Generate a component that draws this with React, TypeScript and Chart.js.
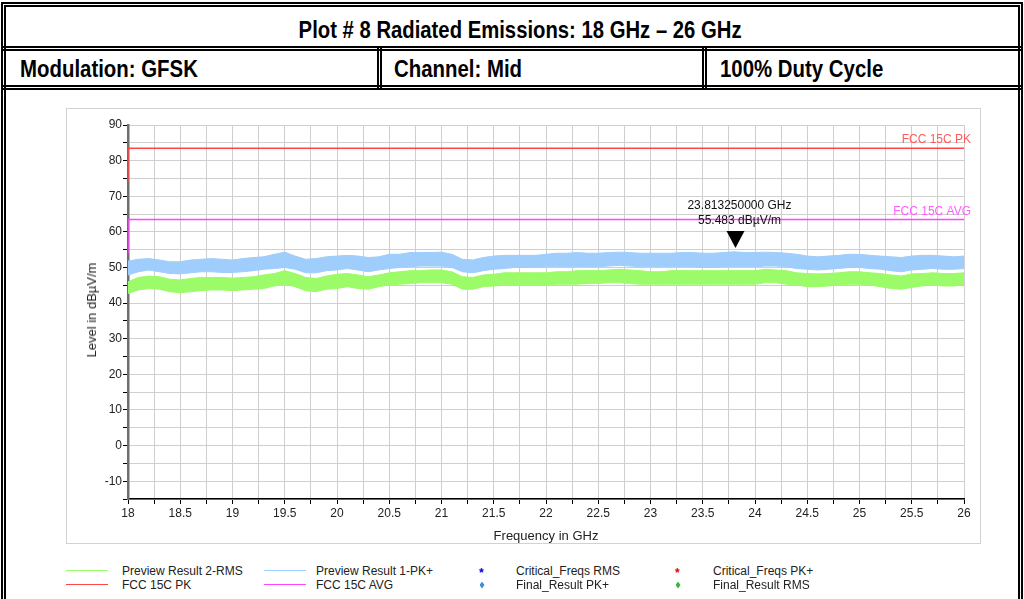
import React, { useEffect, useRef } from "react";
import { Chart, registerables } from "chart.js";

Chart.register(...registerables);

// ---- data ----
const freqs = [
  18.0, 18.1, 18.2, 18.3, 18.4, 18.5, 18.6, 18.7, 18.8, 18.9,
  19.0, 19.1, 19.2, 19.3, 19.4, 19.5, 19.6, 19.7, 19.8, 19.9,
  20.0, 20.1, 20.2, 20.3, 20.4, 20.5, 20.6, 20.7, 20.8, 20.9,
  21.0, 21.1, 21.2, 21.3, 21.4, 21.5, 21.6, 21.7, 21.8, 21.9,
  22.0, 22.1, 22.2, 22.3, 22.4, 22.5, 22.6, 22.7, 22.8, 22.9,
  23.0, 23.1, 23.2, 23.3, 23.4, 23.5, 23.6, 23.7, 23.8, 23.9,
  24.0, 24.1, 24.2, 24.3, 24.4, 24.5, 24.6, 24.7, 24.8, 24.9,
  25.0, 25.1, 25.2, 25.3, 25.4, 25.5, 25.6, 25.7, 25.8, 25.9,
  26.0,
];

// Preview Result 1-PK+ (upper / lower envelope of trace), dBµV/m
const pkUpper = [
  51.8, 52.3, 52.5, 52.1, 51.6, 51.6, 52.1, 52.3, 52.5, 52.3,
  52.1, 52.5, 52.8, 53.0, 53.7, 54.3, 53.2, 52.3, 52.5, 53.0,
  53.2, 53.4, 53.2, 52.8, 53.0, 53.7, 53.7, 54.2, 54.2, 54.2,
  54.3, 53.7, 52.3, 52.1, 52.8, 53.2, 53.4, 53.4, 53.4, 53.4,
  53.7, 54.0, 54.0, 54.2, 54.0, 54.0, 54.2, 54.3, 54.2, 54.0,
  54.0, 54.0, 54.0, 54.2, 54.2, 54.0, 54.0, 54.2, 54.4, 54.2,
  54.2, 54.3, 54.2, 54.0, 53.7, 53.2, 53.0, 53.2, 53.4, 53.7,
  53.7, 53.4, 53.2, 53.0, 52.8, 53.2, 53.4, 53.4, 53.2, 53.0,
  53.2,
];
const pkLower = [
  47.9, 48.8, 49.3, 48.8, 48.3, 48.2, 48.5, 48.8, 48.8, 48.6,
  48.6, 48.8, 49.1, 49.5, 49.7, 50.0, 49.5, 48.5, 48.5, 49.1,
  49.3, 49.7, 49.3, 48.8, 49.3, 49.7, 50.0, 50.2, 50.4, 50.4,
  50.4, 50.0, 48.8, 48.5, 49.1, 49.5, 49.7, 50.0, 50.0, 50.0,
  50.2, 50.2, 50.2, 50.2, 50.2, 50.2, 50.4, 50.6, 50.4, 50.2,
  50.2, 50.2, 50.2, 50.2, 50.2, 50.0, 50.0, 50.2, 50.2, 50.2,
  50.2, 50.4, 50.4, 50.2, 49.7, 49.5, 49.3, 49.5, 49.7, 50.0,
  50.0, 49.7, 49.5, 49.1, 48.8, 49.3, 49.5, 49.7, 49.5, 49.5,
  49.7,
];

// Preview Result 2-RMS (upper / lower envelope of trace), dBµV/m
const rmsUpper = [
  46.0, 47.2, 47.6, 47.4, 46.7, 46.5, 46.9, 47.2, 47.2, 47.2,
  47.0, 47.2, 47.4, 47.9, 48.3, 49.1, 48.3, 47.2, 46.9, 47.6,
  48.1, 48.3, 47.9, 47.4, 47.9, 48.5, 48.8, 49.1, 49.1, 49.3,
  49.3, 48.8, 47.4, 47.2, 47.9, 48.1, 48.5, 48.5, 48.5, 48.5,
  48.5, 48.8, 48.8, 49.1, 49.1, 49.1, 49.3, 49.5, 49.3, 49.1,
  48.8, 48.8, 49.1, 49.1, 49.1, 49.1, 49.1, 49.1, 49.1, 49.1,
  49.1, 49.5, 49.3, 49.1, 48.5, 48.3, 48.2, 48.3, 48.5, 48.8,
  48.8, 48.5, 48.3, 47.9, 47.6, 48.2, 48.3, 48.5, 48.3, 48.3,
  48.5,
];
const rmsLower = [
  42.7, 43.7, 44.1, 43.9, 43.2, 42.9, 43.2, 43.5, 43.7, 43.7,
  43.5, 43.7, 43.9, 44.1, 44.8, 45.3, 44.6, 43.5, 43.2, 43.9,
  44.1, 44.6, 44.1, 43.9, 44.6, 45.1, 45.3, 45.5, 45.7, 45.7,
  45.7, 45.3, 43.9, 43.9, 44.6, 44.8, 45.1, 45.1, 45.1, 45.1,
  45.1, 45.3, 45.3, 45.3, 45.5, 45.5, 45.7, 45.7, 45.5, 45.3,
  45.3, 45.3, 45.3, 45.3, 45.3, 45.3, 45.3, 45.3, 45.3, 45.3,
  45.3, 45.7, 45.7, 45.3, 45.1, 44.6, 44.6, 44.8, 45.1, 45.3,
  45.3, 45.1, 44.6, 44.1, 43.9, 44.4, 44.8, 45.1, 44.8, 44.8,
  45.1,
];

// limit lines
const limitPkFreq = [18, 18, 26];
const limitPkLevel = [74, 83.5, 83.5];
const limitAvgFreq = [18, 18, 26];
const limitAvgLevel = [54, 63.5, 63.5];

// marker
const markerFreq = 23.81325;
const markerLevel = 55.483;

// axes
const xMin = 18;
const xMax = 26;
const xStep = 0.25;
const yMin = -15;
const yMax = 90;
const yStep = 5;

const titleText = "Plot # 8 Radiated Emissions: 18 GHz \u2013 26 GHz";
const cellTexts = ["Modulation: GFSK", "Channel: Mid", "100% Duty Cycle"];
const yTitle = "Level in dB\u00b5V/m";
const xTitle = "Frequency in GHz";

const RED = "#ff4646";
const MAGENTA = "#ff46ff";
const BLUE = "#9fcdfc";
const GREEN = "#9bfb68";

const toXY = (xs: number[], ys: number[]) => xs.map((x, i) => ({ x, y: ys[i] }));

const overlayPlugin = {
  id: "overlay",
  afterDatasetsDraw(chart: any) {
    const { ctx, scales, chartArea } = chart;
    const xs = scales.x;
    const ys = scales.y;
    ctx.save();
    ctx.font = "12px 'Liberation Sans', Arial, sans-serif";
    ctx.textAlign = "right";
    ctx.textBaseline = "middle";
    ctx.fillStyle = "#ff5a5a";
    ctx.fillText("FCC 15C PK", chartArea.right + 7, ys.getPixelForValue(limitPkLevel[2]) - 8);
    ctx.fillStyle = "#ff5cff";
    ctx.fillText("FCC 15C AVG", chartArea.right + 7, ys.getPixelForValue(limitAvgLevel[2]) - 8);
    const mx = xs.getPixelForValue(markerFreq);
    const my = ys.getPixelForValue(markerLevel);
    ctx.fillStyle = "#000";
    ctx.beginPath();
    ctx.moveTo(mx, my);
    ctx.lineTo(mx - 9, my - 17);
    ctx.lineTo(mx + 9, my - 17);
    ctx.closePath();
    ctx.fill();
    ctx.textAlign = "center";
    ctx.fillStyle = "#111";
    ctx.fillText(markerFreq.toFixed(9) + " GHz", mx + 4, my - 42);
    ctx.fillText(markerLevel.toFixed(3) + " dB\u00b5V/m", mx + 4, my - 27);
    ctx.restore();
  },
};

function PlotChart() {
  const ref = useRef<HTMLCanvasElement | null>(null);
  useEffect(() => {
    if (!ref.current) return;
    const chart = new Chart(ref.current, {
      type: "line",
      data: {
        datasets: [
          {
            label: "FCC 15C PK",
            data: toXY(limitPkFreq, limitPkLevel),
            borderColor: RED,
            borderWidth: 1.5,
            pointRadius: 0,
            fill: false,
          },
          {
            label: "FCC 15C AVG",
            data: toXY(limitAvgFreq, limitAvgLevel),
            borderColor: MAGENTA,
            borderWidth: 1.5,
            pointRadius: 0,
            fill: false,
          },
          {
            label: "PK low",
            data: toXY(freqs, pkLower),
            borderColor: BLUE,
            borderWidth: 1,
            pointRadius: 0,
            fill: false,
          },
          {
            label: "Preview Result 1-PK+",
            data: toXY(freqs, pkUpper),
            borderColor: BLUE,
            backgroundColor: BLUE,
            borderWidth: 1,
            pointRadius: 0,
            fill: "-1",
          },
          {
            label: "RMS low",
            data: toXY(freqs, rmsLower),
            borderColor: GREEN,
            borderWidth: 1,
            pointRadius: 0,
            fill: false,
          },
          {
            label: "Preview Result 2-RMS",
            data: toXY(freqs, rmsUpper),
            borderColor: GREEN,
            backgroundColor: GREEN,
            borderWidth: 1,
            pointRadius: 0,
            fill: "-1",
          },
        ],
      },
      options: {
        animation: false,
        responsive: false,
        events: [],
        layout: { padding: { left: 0, top: 17, right: 16, bottom: 0 } },
        plugins: {
          legend: { display: false },
          tooltip: { enabled: false },
        },
        scales: {
          x: {
            type: "linear",
            min: xMin,
            max: xMax,
            afterFit: (s: any) => {
              s.height = 44;
            },
            ticks: {
              stepSize: xStep,
              autoSkip: false,
              maxRotation: 0,
              padding: 2,
              color: "#222",
              font: { size: 12, family: "'Liberation Sans', Arial, sans-serif" },
              callback: (v: any) => {
                const n = Number(v);
                return Math.abs(n * 2 - Math.round(n * 2)) < 1e-6 ? String(n) : "";
              },
            },
            grid: { color: "#cfcfcf", lineWidth: 1, tickLength: 5, tickColor: "#000" },
            border: { color: "#000", width: 1.5 },
          },
          y: {
            type: "linear",
            min: yMin,
            max: yMax,
            afterFit: (s: any) => {
              s.width = 62;
            },
            ticks: {
              stepSize: yStep,
              autoSkip: false,
              padding: 1,
              color: "#222",
              font: { size: 12, family: "'Liberation Sans', Arial, sans-serif" },
              callback: (v: any) => {
                const n = Number(v);
                return n % 10 === 0 ? String(n) : "";
              },
            },
            grid: { color: "#cfcfcf", lineWidth: 1, tickLength: 5, tickColor: "#000" },
            border: { color: "#6e6e6e", width: 2.5 },
          },
        },
      },
      plugins: [overlayPlugin],
    } as any);
    return () => chart.destroy();
  }, []);
  return <canvas ref={ref} width={914} height={435} style={{ display: "block" }} />;
}

const abs = (s: React.CSSProperties): React.CSSProperties => ({ position: "absolute", ...s });

function HLine2({ top }: { top: number }) {
  return (
    <div
      style={abs({
        left: 1,
        top,
        width: 1022,
        height: 5,
        boxSizing: "border-box",
        borderTop: "2px solid #000",
        borderBottom: "2px solid #000",
      })}
    />
  );
}
function VLine2({ left, top, height }: { left: number; top: number; height: number }) {
  return (
    <div
      style={abs({
        left,
        top,
        width: 5,
        height,
        boxSizing: "border-box",
        borderLeft: "2px solid #000",
        borderRight: "2px solid #000",
      })}
    />
  );
}

const headFont: React.CSSProperties = {
  fontFamily: "'Liberation Sans', Arial, sans-serif",
  fontWeight: "bold",
  color: "#000",
  whiteSpace: "nowrap",
  lineHeight: "28px",
};

const legendFont: React.CSSProperties = {
  fontFamily: "'Liberation Sans', Arial, sans-serif",
  fontSize: 12,
  color: "#222",
  whiteSpace: "nowrap",
  lineHeight: "14px",
};

function LegendLine({ x, y, color, text, tx }: { x: number; y: number; color: string; text: string; tx: number }) {
  return (
    <>
      <div style={abs({ left: x, top: y - 1, width: 42, height: 0, borderTop: `1.5px solid ${color}` })} />
      <div style={abs({ ...legendFont, left: tx, top: y - 7 })}>{text}</div>
    </>
  );
}
function LegendStar({ x, y, color, text, tx }: { x: number; y: number; color: string; text: string; tx: number }) {
  return (
    <>
      <div style={abs({ ...legendFont, left: x - 3, top: y - 5, color, fontSize: 12, fontWeight: "bold" })}>*</div>
      <div style={abs({ ...legendFont, left: tx, top: y - 7 })}>{text}</div>
    </>
  );
}
function LegendDiamond({ x, y, color, text, tx }: { x: number; y: number; color: string; text: string; tx: number }) {
  return (
    <>
      <div
        style={abs({
          left: x - 2.5,
          top: y - 3.5,
          width: 5,
          height: 7,
          background: color,
          clipPath: "polygon(50% 0, 100% 50%, 50% 100%, 0 50%)",
        })}
      />
      <div style={abs({ ...legendFont, left: tx, top: y - 7 })}>{text}</div>
    </>
  );
}

const cellSpan: React.CSSProperties = {
  ...headFont,
  fontSize: 24,
  display: "inline-block",
  transform: "scaleX(0.85)",
  transformOrigin: "left center",
};

export default function App() {
  return (
    <div style={abs({ left: 0, top: 0, width: 1024, height: 599, overflow: "hidden", background: "#fff" })}>
      {/* outer frame */}
      <div
        style={abs({
          left: 1,
          top: 2,
          width: 1022,
          height: 720,
          boxSizing: "border-box",
          border: "5px double #000",
        })}
      />
      <HLine2 top={46} />
      <HLine2 top={85} />
      <VLine2 left={377} top={48} height={40} />
      <VLine2 left={702} top={48} height={40} />
      <div style={abs({ left: 7, top: 88, width: 16, height: 2, background: "#000" })} />

      {/* header texts */}
      <div style={abs({ left: 0, width: 1040, top: 16, textAlign: "center" })}>
        <span style={{ ...headFont, fontSize: 24, display: "inline-block", transform: "scaleX(0.845)" }}>
          {titleText}
        </span>
      </div>
      <div style={abs({ left: 20, top: 55 })}>
        <span style={cellSpan}>{cellTexts[0]}</span>
      </div>
      <div style={abs({ left: 394, top: 55 })}>
        <span style={cellSpan}>{cellTexts[1]}</span>
      </div>
      <div style={abs({ left: 720, top: 55 })}>
        <span style={cellSpan}>{cellTexts[2]}</span>
      </div>

      {/* chart panel */}
      <div
        style={abs({
          left: 66,
          top: 108,
          width: 915,
          height: 436,
          boxSizing: "border-box",
          border: "1.5px solid #d2d2d2",
        })}
      />
      <div style={abs({ left: 66, top: 108 })}>
        <PlotChart />
      </div>
      <div
        style={abs({
          ...legendFont,
          fontSize: 13,
          left: 92,
          top: 310,
          transform: "translate(-50%, -50%) rotate(-90deg)",
        })}
      >
        {yTitle}
      </div>
      <div style={abs({ ...legendFont, fontSize: 13, left: 546, top: 536, transform: "translate(-50%, -50%)" })}>
        {xTitle}
      </div>

      {/* legend */}
      <LegendLine x={66} y={571} color={GREEN} text="Preview Result 2-RMS" tx={122} />
      <LegendLine x={66} y={585} color={RED} text="FCC 15C PK" tx={122} />
      <LegendLine x={264} y={571} color={BLUE} text="Preview Result 1-PK+" tx={316} />
      <LegendLine x={264} y={585} color={MAGENTA} text="FCC 15C AVG" tx={316} />
      <LegendStar x={482} y={571} color="#0000ee" text="Critical_Freqs RMS" tx={516} />
      <LegendDiamond x={482} y={585} color="#3d8fdc" text="Final_Result PK+" tx={516} />
      <LegendStar x={678} y={571} color="#ee0000" text="Critical_Freqs PK+" tx={713} />
      <LegendDiamond x={678} y={585} color="#3cb83c" text="Final_Result RMS" tx={713} />
    </div>
  );
}
